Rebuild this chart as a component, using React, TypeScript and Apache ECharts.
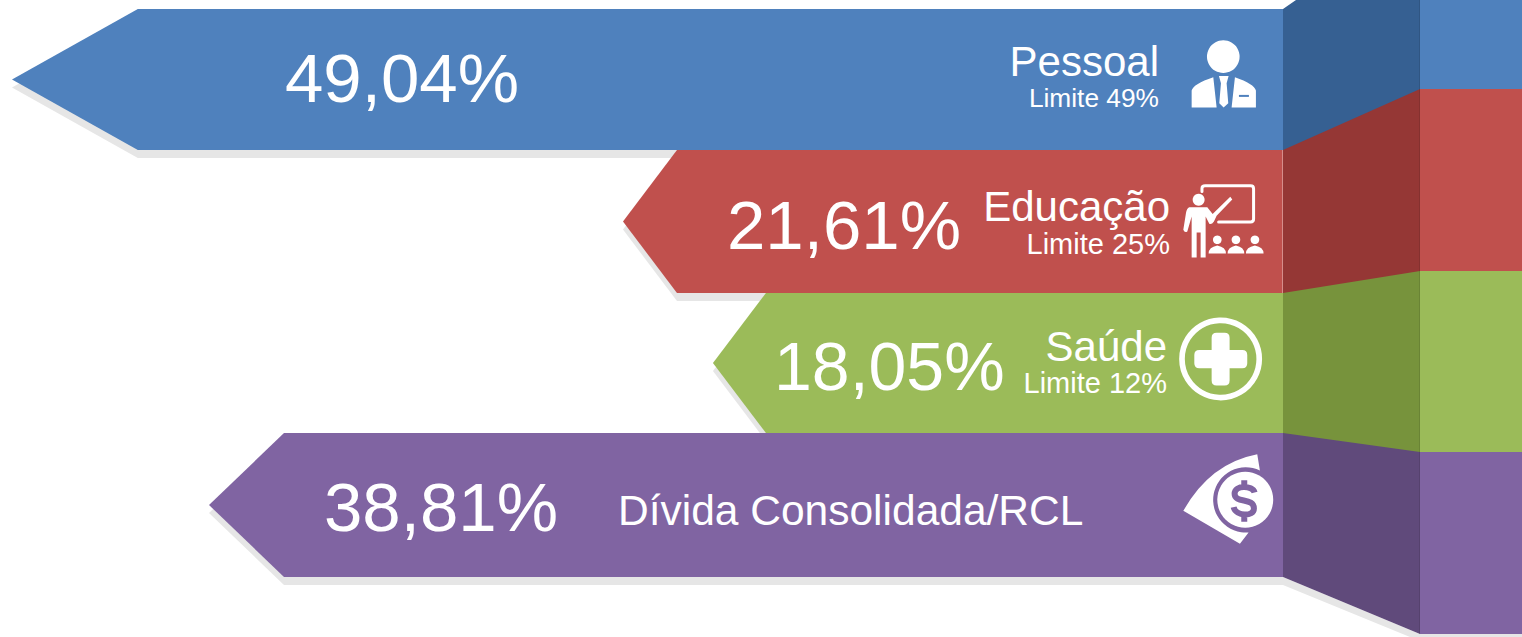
import React, { useEffect, useRef } from "react";
import * as echarts from "echarts";

const names = ["Pessoal", "Educação", "Saúde", "Dívida Consolidada/RCL"];
const values = [49.04, 21.61, 18.05, 38.81];
const limits: (number | null)[] = [49, 25, 12, null];
// drawn length of each arrow, as a share of the longest one
const reach = [100, 51.93, 44.85, 84.5];
// length of the arrow head, in the same unit
const headReach = [9.9, 4.25, 4.17, 5.9];
// heights of the rows on the left of the fold and on the right of it
const rowHeights = [141, 143, 140, 144];
const rightEdges = [80, 262, 443, 625];

const colors = ["#4F81BD", "#C0504D", "#9BBB59", "#8064A2"];
const darks = ["#366092", "#953735", "#77933C", "#604A7B"];
const shadow = "#E6E6E6";

const W = 1522;
const H = 637;
const FOLD_W = 137;
const SHADOW_DY = 8;

const valueText = [
  { x: 285, y: 78, size: 69 },
  { x: 727, y: 225, size: 69 },
  { x: 774, y: 366, size: 68 },
  { x: 324, y: 507, size: 69 },
];
const nameText = [
  { x: 1159, y: 61, align: "right", size: 42 },
  { x: 1170, y: 206, align: "right", size: 42 },
  { x: 1167, y: 346, align: "right", size: 42 },
  { x: 618, y: 510, align: "left", size: 42.5 },
];
const limitText = [
  { x: 1159, y: 98, size: 26.3 },
  { x: 1170, y: 244, size: 29 },
  { x: 1167, y: 383, size: 29 },
];

const FONT = '"Liberation Sans", Arial, sans-serif';

echarts.graphic.registerShape(
  "iconPersonBody",
  echarts.graphic.extendPath(
    "M65 323 L65 272 Q70 252 130 232 L140 323 Z M258 323 L258 272 Q253 252 195 232 L185 323 Z M147 228 L176 228 L170 250 L175 310 L161 323 L148 310 L153 250 Z",
    {}
  )
);
echarts.graphic.registerShape(
  "iconTeacherBody",
  echarts.graphic.extendPath(
    "M58 622 Q50 625 48 640 L40 690 Q44 700 52 695 L65 650 L65 773 L80 773 L80 698 L92 698 L92 773 L107 773 L107 650 L118 672 Q125 675 132 665 L140 648 L187 599 L181 591 L128 643 L112 622 Z",
    {}
  )
);
echarts.graphic.registerShape(
  "iconBoard",
  echarts.graphic.extendPath(
    "M96 575 L96 566 Q96 558 106 558 L242 558 Q251 558 251 567 L251 658 Q251 667 242 667 L146 667",
    {}
  )
);
echarts.graphic.registerShape(
  "iconStudents",
  echarts.graphic.extendPath(
    "M116 761 Q116 742 142 737 Q168 742 168 761 Z M173 761 Q173 742 198 737 Q223 742 223 761 Z M228 761 Q228 742 255 737 Q281 742 281 761 Z",
    {}
  )
);
echarts.graphic.registerShape(
  "iconCross",
  echarts.graphic.extendPath(
    "M125 113 Q125 98 140 98 L164 98 Q179 98 179 113 L179 150 L217 150 Q232 150 232 165 L232 190 Q232 205 217 205 L179 205 L179 242 Q179 257 164 257 L140 257 Q125 257 125 242 L125 205 L88 205 Q73 205 73 190 L73 165 Q73 150 88 150 L125 150 Z",
    {}
  )
);
echarts.graphic.registerShape(
  "iconWedge",
  echarts.graphic.extendPath(
    "M40 633 Q120 490 262 463 L270 512 A98 98 0 1 0 236 698 L210 732 Z",
    {}
  )
);
echarts.graphic.registerShape(
  "iconDollar",
  echarts.graphic.extendPath(
    "M254 578 C248 556 194 554 194 582 C194 612 252 592 252 626 C252 652 198 650 191 622 M223 541 L223 566 M223 640 L223 666",
    {}
  )
);

const renderRow = (params: any, api: any) => {
  const i = params.dataIndex as number;
  const top = rowHeights.slice(0, i).reduce((a, b) => a + b, 0);
  const bottom = top + rowHeights[i];
  const [xEnd, yTop] = api.coord([0, top]);
  const yBottom = api.coord([0, bottom])[1];
  const yMid = (yTop + yBottom) / 2;
  const tip = api.coord([reach[i], 0])[0];
  const shoulder = api.coord([reach[i] - headReach[i], 0])[0];
  const foldX = xEnd + FOLD_W;
  const rightTop = i === 0 ? 0 : api.coord([0, rightEdges[i - 1]])[1];
  const rightBottom = api.coord([0, rightEdges[i]])[1];
  const arrow = (dy: number) => [
    [tip, yMid + dy],
    [shoulder, yTop + dy],
    [xEnd, yTop + dy],
    [xEnd, yBottom + dy],
    [shoulder, yBottom + dy],
  ];
  // every row but the last runs 2px under the next one, so no seam shows
  const under = i < values.length - 1 ? 2 : 0;
  const children: any[] = [];
  if (params.seriesIndex === 0) {
    children.push({ type: "polygon", shape: { points: arrow(SHADOW_DY) }, style: { fill: shadow } });
    if (i === 3) {
      children.push({
        type: "polygon",
        shape: {
          points: [
            [xEnd, yBottom],
            [foldX, rightBottom],
            [W, rightBottom],
            [W, H],
            [foldX - 10, H],
            [xEnd, yBottom + SHADOW_DY],
          ],
        },
        style: { fill: shadow },
      });
    }
  } else {
    const foldTop =
      i === 0
        ? [
            [xEnd, yTop],
            [xEnd + 13, 0],
            [foldX, 0],
          ]
        : [
            [xEnd, yTop],
            [foldX, rightTop],
          ];
    children.push(
      { type: "polygon", shape: { points: arrow(0) }, style: { fill: colors[i] } },
      {
        type: "polygon",
        shape: { points: [...foldTop, [foldX + 1, rightTop], [foldX + 1, rightBottom + under], [foldX, rightBottom + under], [xEnd, yBottom + under]] },
        style: { fill: darks[i] },
      },
      {
        type: "rect",
        shape: { x: foldX, y: rightTop, width: W - foldX, height: rightBottom - rightTop },
        style: { fill: colors[i] },
      },
      {
        type: "line",
        shape: { x1: foldX - 0.5, y1: rightTop, x2: foldX - 0.5, y2: rightBottom },
        style: { stroke: "rgba(0,0,0,0.1)", lineWidth: 1 },
      }
    );
    if (i === 1) {
      children.push({
        type: "line",
        shape: { x1: xEnd - 0.5, y1: yTop, x2: xEnd - 0.5, y2: yBottom },
        style: { stroke: "rgba(255,255,255,0.35)", lineWidth: 1 },
      });
    }
  }
  return { type: "group", children };
};

const Z = 50;
const zoomed = (ox: number, oy: number, el: any) => ({
  ...el,
  x: ox,
  y: oy,
  scaleX: 1 / 3,
  scaleY: 1 / 3,
  z: Z,
});

const iconElements = (): any[] => {
  const white = { fill: "#fff" };
  const line = (w: number, c = "#fff") => ({ fill: "none", stroke: c, lineWidth: w, lineCap: "round", lineJoin: "round" });
  return [
    // person
    zoomed(1170, 0, { type: "circle", shape: { cx: 160, cy: 170, r: 49 }, style: white }),
    zoomed(1170, 0, { type: "iconPersonBody", style: white }),
    zoomed(1170, 0, { type: "rect", shape: { x: 207, y: 285, width: 30, height: 6 }, style: { fill: colors[0] } }),
    // teacher
    zoomed(1170, 0, { type: "iconBoard", style: line(9) }),
    zoomed(1170, 0, { type: "circle", shape: { cx: 86, cy: 600, r: 18 }, style: white }),
    zoomed(1170, 0, { type: "iconTeacherBody", style: white }),
    zoomed(1170, 0, { type: "circle", shape: { cx: 142, cy: 720, r: 13 }, style: white }),
    zoomed(1170, 0, { type: "circle", shape: { cx: 198, cy: 720, r: 13 }, style: white }),
    zoomed(1170, 0, { type: "circle", shape: { cx: 255, cy: 720, r: 13 }, style: white }),
    zoomed(1170, 0, { type: "iconStudents", style: white }),
    // health
    zoomed(1170, 300, { type: "circle", shape: { cx: 152, cy: 177, r: 116 }, style: { fill: "none", stroke: "#fff", lineWidth: 17 } }),
    zoomed(1170, 300, { type: "iconCross", style: white }),
    // money
    zoomed(1170, 300, { type: "iconWedge", style: white }),
    zoomed(1170, 300, { type: "circle", shape: { cx: 226, cy: 600, r: 84 }, style: white }),
    zoomed(1170, 300, { type: "iconDollar", style: { ...line(18, colors[3]), lineCap: "butt" } }),
  ];
};

const textElements = (): any[] => {
  const out: any[] = [];
  values.forEach((v, i) => {
    out.push({
      type: "text",
      z: Z,
      x: valueText[i].x,
      y: valueText[i].y,
      style: {
        text: v.toFixed(2).replace(".", ",") + "%",
        font: `${valueText[i].size}px ${FONT}`,
        fill: "#fff",
        align: "left",
        verticalAlign: "middle",
      },
    });
    out.push({
      type: "text",
      z: Z,
      x: nameText[i].x,
      y: nameText[i].y,
      style: {
        text: names[i],
        font: `${nameText[i].size}px ${FONT}`,
        fill: "#fff",
        align: nameText[i].align,
        verticalAlign: "middle",
      },
    });
    const lim = limits[i];
    if (lim !== null) {
      out.push({
        type: "text",
        z: Z,
        x: limitText[i].x,
        y: limitText[i].y,
        style: {
          text: `Limite ${lim}%`,
          font: `${limitText[i].size}px ${FONT}`,
          fill: "#fff",
          align: "right",
          verticalAlign: "middle",
        },
      });
    }
  });
  return out;
};

export default function App() {
  const ref = useRef<HTMLDivElement>(null);
  useEffect(() => {
    document.body.style.margin = "0";
    const chart = echarts.init(ref.current!, undefined, { renderer: "svg" });
    const total = rowHeights.reduce((a, b) => a + b, 0);
    const data = values.map((_, i) => [reach[i], i]);
    chart.setOption({
      animation: false,
      backgroundColor: "#fff",
      grid: { left: 12, right: W - 1283, top: 9, height: total },
      xAxis: { type: "value", inverse: true, min: 0, max: 100, show: false },
      yAxis: { type: "value", inverse: true, min: 0, max: total, show: false },
      tooltip: { show: false },
      series: [
        { type: "custom", renderItem: renderRow, data, clip: false, z: 1, silent: true },
        { type: "custom", renderItem: renderRow, data, clip: false, z: 2, silent: true },
      ],
      graphic: { elements: [...iconElements(), ...textElements()] },
    });
    return () => chart.dispose();
  }, []);
  return <div ref={ref} style={{ width: W, height: H }} />;
}
